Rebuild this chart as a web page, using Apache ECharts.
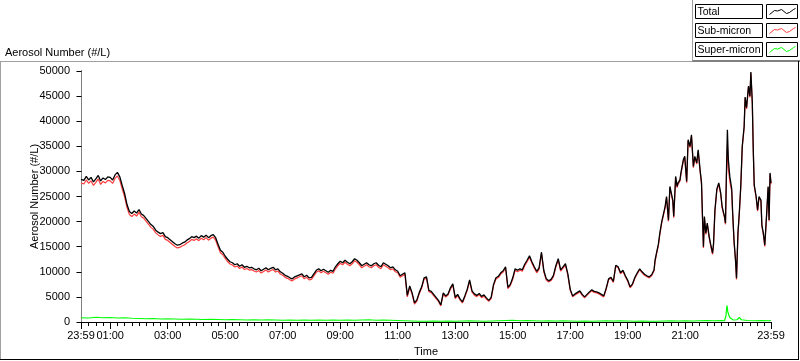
<!DOCTYPE html>
<html>
<head>
<meta charset="utf-8">
<script src="https://cdn.jsdelivr.net/npm/echarts@6/dist/echarts.min.js"></script>
<style>
html,body{margin:0;padding:0;background:#fff;}
#chart{width:800px;height:361px;}
</style>
</head>
<body>
<div id="chart"></div>
<script>
// ---- DATA (time in minutes after midnight; -1 = 23:59 of previous day) ----
const timeMin = [
  -1,
  0,5,10,15,20,25,30,35,40,45,50,55,
  60,65,70,75,80,85,90,95,100,105,110,115,
  120,125,130,135,140,145,150,155,160,165,170,175,
  180,185,190,195,200,205,210,215,220,225,230,235,
  240,245,250,255,260,265,270,275,280,285,290,295,
  300,305,310,315,320,325,330,335,340,345,350,355,
  360,365,370,375,380,385,390,395,400,405,410,415,
  420,425,430,435,440,445,450,455,460,465,470,475,
  480,485,490,495,500,505,510,515,520,525,530,535,
  540,545,550,555,560,565,570,575,580,585,590,595,
  600,605,610,615,620,625,630,635,640,645,650,655,
  660,665,670,675,680,685,690,695,700,705,710,715,
  720,725,730,735,740,745,750,755,760,765,770,775,
  780,785,790,795,800,805,810,815,820,825,830,835,
  840,845,850,855,860,865,870,875,880,885,890,895,
  900,905,910,915,920,925,930,935,940,945,950,955,
  960,965,970,975,980,985,990,995,1000,1005,1010,1015,
  1020,1025,1030,1035,1040,1045,1050,1055,1060,1065,1070,1075,
  1080,1085,1090,1095,1100,1105,1110,1115,1120,1125,1130,1135,
  1140,1145,1150,1155,1160,1165,1170,1175,1180,1185,1190,1195,
  1197,1200,1204,1207,1211,1218,1221,1225,1228,1232,
  1234,1236,1240,1243,1245,1249,1251,1256,1259,1263,
  1266,1270,1273,1277,1280,1284,1287,1291,1294,1296,
  1298,1300,1303,1306,1310,1313,1317,1319,1322,1326,
  1330,1334,1337,1342,1344,1346,1348,1350,1353,1357,
  1359,1362,1365,1367,1370,1373,1376,1379,1383,1385,
  1388,1392,1395,1397,1400,1402,1404,1408,1411,1414,
  1418,1420,1423,1426,1430,1433,1435,1437,1439
];

const totalValues = [
  28400,
  28600,28200,29000,28300,28800,27900,28500,29200,28100,28700,28400,28900,
  28800,28300,29300,29800,28900,27200,25600,23400,22000,21600,22100,21700,
  22400,21500,21200,20600,20000,19400,19000,18300,17900,17600,17800,17000,
  16800,16400,16000,15600,15300,15400,15700,15900,16300,16600,17000,16800,
  17100,16700,17200,16900,17300,16800,17200,17400,16800,15500,14300,13900,
  13100,12500,12000,11800,11400,11600,11100,11400,10900,11100,10800,10900,
  10600,10400,10700,10200,10500,10800,10400,10700,10900,10400,10600,10000,
  9700,9300,9100,8800,8600,9000,9200,9400,9600,9000,9300,8800,
  8900,9600,10300,10600,10200,10500,10200,9900,10300,10100,11000,11600,
  12100,11800,12300,11900,11600,12000,12600,12300,11800,11200,11500,11800,
  11400,11200,11600,11800,11300,11000,11800,11500,11200,10800,11000,10400,
  10100,9200,9500,9800,5300,7200,5800,3800,4400,5900,7000,8800,
  9000,6300,6100,5500,4900,4300,3400,5800,5200,5600,6800,7600,
  4900,5500,4600,4000,5200,6500,8400,6200,5600,5300,5700,5100,
  5400,4800,4300,4900,7500,8800,9100,9800,10200,11000,6900,7500,
  8800,10600,10300,10600,10400,11500,12300,13200,12000,11000,10100,10800,
  13900,10200,8600,8200,8500,9300,11200,12600,10400,11000,11600,9600,
  6500,5200,5600,5900,6200,5500,5000,5500,6000,6400,6100,6000,
  5800,5500,5200,6700,8600,8900,8100,11300,11000,9800,10300,9200,
  8300,7000,7600,8900,9800,10600,10000,9500,9200,9000,9400,10400,
  12300,13700,15500,17700,20000,23000,25000,20300,27000,27300,
  24300,21000,29000,27000,27700,28300,29700,32300,33000,28000,
  36300,35000,37300,31000,33000,31700,34300,30300,27700,21000,
  15000,21000,17700,19700,17000,15500,13700,15500,22300,26500,
  27700,25700,23000,21000,19700,29700,38300,32300,29000,26500,
  21700,16000,12300,8700,17700,22000,27300,35000,39000,44800,
  42700,47000,45000,49800,43700,34300,27300,25000,22300,25000,
  24300,19300,17700,15300,21700,27000,20300,29700,27700
];

const subMicronValues = [
  27700,
  27900,27500,28300,27600,28100,27200,27800,28500,27400,28000,27700,28200,
  28100,27600,28600,29100,28200,26500,24950,22800,21400,21000,21500,21100,
  21850,20950,20650,20050,19450,18850,18450,17750,17350,17050,17250,16450,
  16250,15850,15450,15050,14750,14850,15150,15350,15750,16050,16450,16250,
  16600,16200,16700,16400,16800,16300,16700,16900,16300,15000,13800,13400,
  12650,12050,11550,11350,10950,11150,10650,10950,10450,10650,10350,10450,
  10150,9950,10250,9750,10050,10350,9950,10250,10450,9950,10150,9550,
  9300,8900,8700,8400,8200,8600,8800,9000,9200,8600,8900,8400,
  8500,9200,9900,10200,9800,10100,9800,9500,9900,9700,10600,11200,
  11700,11400,11900,11500,11200,11600,12200,11900,11400,10800,11100,11400,
  11000,10800,11200,11400,10900,10600,11400,11100,10800,10400,10600,10000,
  9800,8900,9200,9500,5000,6900,5500,3550,4150,5650,6750,8550,
  8750,6050,5850,5250,4650,4100,3200,5550,4950,5350,6550,7350,
  4650,5250,4400,3800,4950,6250,8150,5950,5350,5050,5450,4850,
  5150,4550,4100,4650,7250,8550,8850,9550,9950,10750,6650,7250,
  8500,10300,10000,10300,10100,11200,12000,12900,11700,10700,9800,10500,
  13650,9950,8350,7950,8250,9050,10950,12350,10150,10750,11350,9350,
  6300,5000,5400,5700,6000,5300,4800,5300,5800,6200,5900,5800,
  5600,5300,5000,6500,8400,8700,7900,11100,10800,9600,10100,9000,
  8100,6800,7400,8700,9600,10400,9800,9300,9000,8800,9200,10200,
  12050,13450,15250,17450,19750,22750,24750,20050,26750,27050,
  24050,20750,28750,26750,27450,28050,29450,32050,32750,27750,
  36050,34750,37050,30750,32750,31450,34050,30050,27450,20750,
  14750,20750,17450,19450,16750,15250,13450,15250,22050,26250,
  27450,25450,22750,20750,19450,28800,35300,30600,28000,26000,
  21450,15750,12050,8450,17450,21750,27050,34750,38750,44550,
  42450,46750,44750,49550,43450,34050,27050,24750,22050,24750,
  24050,19050,17450,15050,21450,26750,20050,29450,27450
];

const superTimeMin = [
  -1,0,15,30,45,60,75,90,105,
  120,135,150,165,180,195,210,225,240,255,270,285,
  300,315,330,345,360,375,390,405,420,435,450,465,
  480,495,510,525,540,555,570,585,600,615,630,645,
  660,675,690,705,720,735,750,765,780,795,810,825,
  840,855,870,885,900,915,930,945,960,975,990,1005,
  1020,1035,1050,1065,1080,1095,1110,1125,1140,1155,1170,1185,
  1200,1215,1230,1245,1260,1275,1290,1305,1320,1335,
  1342,1345,1347,1349,1351,1353,1356,1360,1368,1373,1377,1390,1405,1420,1435,1439
];
const superMicronValues = [
  850,900,800,950,850,900,800,850,750,
  700,650,700,600,650,600,550,600,550,500,550,500,
  450,500,450,400,450,400,450,400,350,400,350,400,
  350,400,350,400,350,400,350,400,450,350,400,350,
  300,250,200,150,150,200,150,200,150,200,250,200,
  150,200,250,300,350,250,300,250,200,250,200,250,
  200,150,200,150,200,250,200,250,200,150,200,150,
  150,200,250,200,250,200,250,300,250,300,
  250,1200,3300,2000,1400,900,600,400,450,900,450,300,250,300,250,300
];

const seriesNames = ['Total','Sub-micron','Super-micron'];
const seriesColors = ['#000000','#ff3c3c','#00ff00'];
const xLabelValues = [-1,60,180,300,420,540,660,780,900,1020,1140,1260,1439];
const yMax = 50000, yStep = 5000;

// ---- build ----
const pairs = (t, v) => t.map((x, i) => [x, v[i]]);
const minorTicks = [];
for (let m = 0; m <= 1425; m += 15) minorTicks.push(m);
const pad = n => (n < 10 ? '0' : '') + n;
const fmt = v => (v === -1 || v === 1439) ? '23:59' : pad(Math.round(v / 60)) + ':00';
const FONT = 'Liberation Sans, Arial, sans-serif';

const chart = echarts.init(document.getElementById('chart'), null, {renderer: 'canvas'});

const baseX = {type: 'value', min: -1, max: 1439, splitLine: {show: false}, gridIndex: 0};
const baseY = {type: 'value', min: 0, max: yMax, interval: yStep, splitLine: {show: false}, gridIndex: 0};

function legendRow(i, y) {
  const sx = 766.5;
  return [
    {type: 'rect', shape: {x: 695.5, y: y, width: 67, height: 14}, style: {fill: '#fff', stroke: '#000', lineWidth: 1}},
    {type: 'text', x: 697.5, y: y + 7.5, style: {text: seriesNames[i], fill: '#000', font: '10.5px ' + FONT, textVerticalAlign: 'middle', textAlign: 'left'}},
    {type: 'rect', shape: {x: sx, y: y, width: 31, height: 14}, style: {fill: '#fff', stroke: '#000', lineWidth: 1}},
    {type: 'polyline', shape: {points: [[sx+3,y+10],[sx+8,y+6],[sx+11,y+6.5],[sx+15,y+5],[sx+20,y+9],[sx+23,y+8],[sx+27,y+5],[sx+29,y+4]]},
      style: {stroke: seriesColors[i], lineWidth: 1, fill: null}}
  ];
}

const graphic = [].concat(
  [
    {type: 'line', shape: {x1: 0, y1: 61.5, x2: 692, y2: 61.5}, style: {stroke: '#a0a0a0', lineWidth: 1}},
    {type: 'line', shape: {x1: 692, y1: 61, x2: 800, y2: 61}, style: {stroke: '#808080', lineWidth: 2}},
    {type: 'line', shape: {x1: 692.5, y1: 0, x2: 692.5, y2: 61}, style: {stroke: '#a0a0a0', lineWidth: 1}},
    {type: 'line', shape: {x1: 0.5, y1: 61, x2: 0.5, y2: 360}, style: {stroke: '#a0a0a0', lineWidth: 1}},
    {type: 'line', shape: {x1: 0, y1: 359.5, x2: 799, y2: 359.5}, style: {stroke: '#000', lineWidth: 1}},
    {type: 'line', shape: {x1: 798.5, y1: 61, x2: 798.5, y2: 360}, style: {stroke: '#000', lineWidth: 1}},
    {type: 'text', x: 5, y: 52.5, style: {text: 'Aerosol Number (#/L)', fill: '#000', font: '11px ' + FONT, textVerticalAlign: 'middle'}},
    {type: 'text', x: 35, y: 196.5, rotation: Math.PI / 2, style: {text: 'Aerosol Number (#/L)', fill: '#000', font: '11px ' + FONT, textAlign: 'center', textVerticalAlign: 'middle'}},
    {type: 'text', x: 426, y: 351.5, style: {text: 'Time', fill: '#000', font: '11px ' + FONT, textAlign: 'center', textVerticalAlign: 'middle'}}
  ],
  legendRow(0, 4.5), legendRow(1, 23.5), legendRow(2, 42.5)
);

chart.setOption({
  animation: false,
  backgroundColor: '#ffffff',
  grid: {left: 81, top: 71, width: 690, height: 251, containLabel: false, outerBoundsMode: 'none'},
  xAxis: [
    Object.assign({}, baseX, {
      position: 'bottom',
      axisLine: {show: true, lineStyle: {color: '#808080', width: 1}},
      axisTick: {show: true, customValues: minorTicks, length: 4, lineStyle: {color: '#000'}},
      axisLabel: {show: true, customValues: xLabelValues, formatter: fmt, color: '#000', fontSize: 11, fontFamily: FONT, margin: 8}
    }),
    Object.assign({}, baseX, {
      position: 'bottom',
      axisLine: {show: false},
      axisTick: {show: true, customValues: xLabelValues, length: 7, lineStyle: {color: '#000'}},
      axisLabel: {show: false}
    }),
    Object.assign({}, baseX, {
      position: 'top',
      axisLine: {show: true, lineStyle: {color: '#000', width: 1}},
      axisTick: {show: false}, axisLabel: {show: false}
    })
  ],
  yAxis: [
    Object.assign({}, baseY, {
      position: 'left', offset: 4,
      axisLine: {show: false},
      axisTick: {show: true, length: 5, lineStyle: {color: '#000'}},
      axisLabel: {show: true, color: '#000', fontSize: 11, fontFamily: FONT, margin: 7, formatter: v => String(v)}
    }),
    Object.assign({}, baseY, {
      position: 'left', offset: 0,
      axisLine: {show: true, lineStyle: {color: '#000', width: 1}},
      axisTick: {show: false}, axisLabel: {show: false}
    }),
    Object.assign({}, baseY, {
      position: 'right', offset: 0,
      axisLine: {show: true, lineStyle: {color: '#808080', width: 1}},
      axisTick: {show: false}, axisLabel: {show: false}
    })
  ],
  series: [
    {name: seriesNames[2], type: 'line', xAxisIndex: 0, yAxisIndex: 0, data: pairs(superTimeMin, superMicronValues),
      showSymbol: false, symbol: 'none', lineStyle: {color: seriesColors[2], width: 1.2}, silent: true, z: 2},
    {name: seriesNames[1], type: 'line', xAxisIndex: 0, yAxisIndex: 0, data: pairs(timeMin, subMicronValues),
      showSymbol: false, symbol: 'none', lineStyle: {color: seriesColors[1], width: 1.2}, silent: true, z: 3},
    {name: seriesNames[0], type: 'line', xAxisIndex: 0, yAxisIndex: 0, data: pairs(timeMin, totalValues),
      showSymbol: false, symbol: 'none', lineStyle: {color: seriesColors[0], width: 1.3}, silent: true, z: 4}
  ],
  graphic: graphic
});
</script>
</body>
</html>
